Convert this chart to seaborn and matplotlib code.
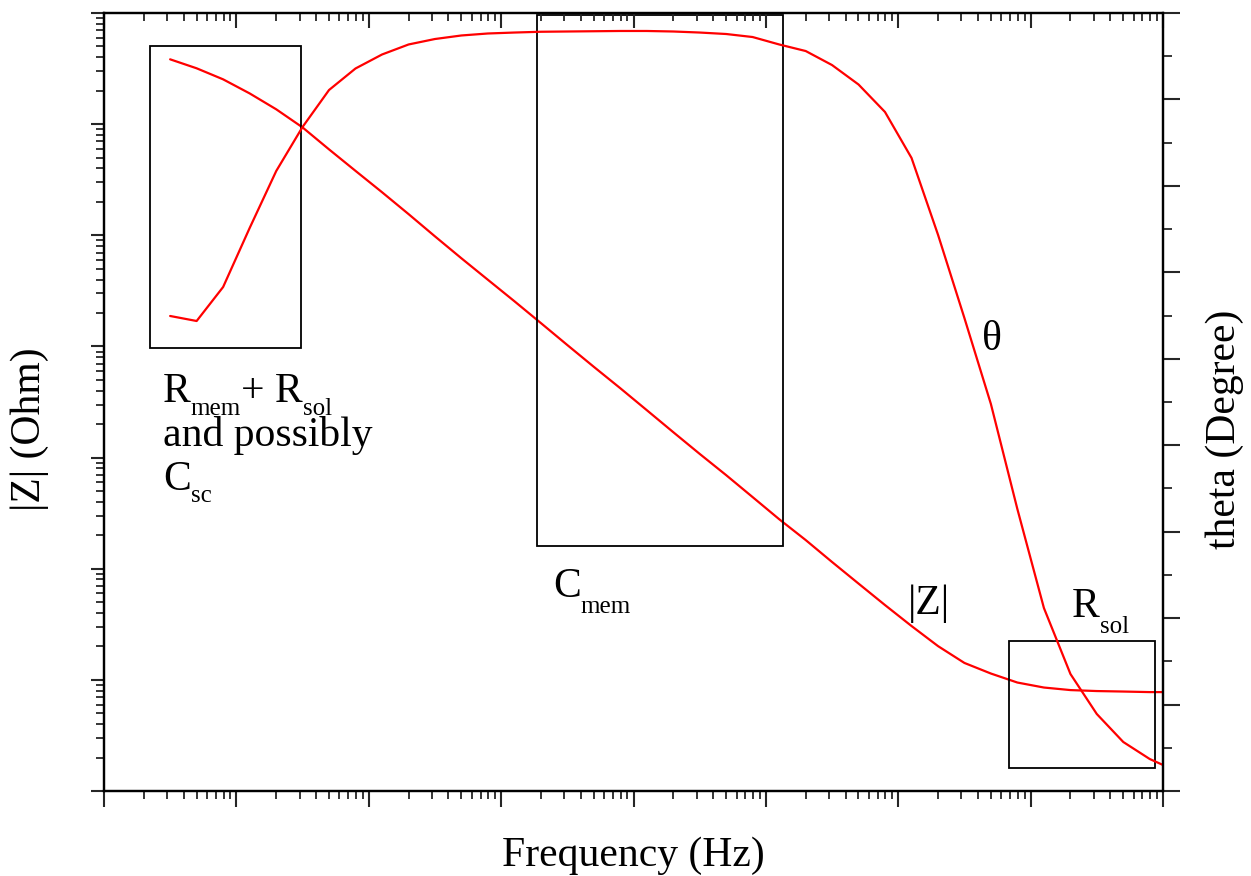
import numpy as np
import pandas as pd
import matplotlib
matplotlib.use("Agg")
import matplotlib.pyplot as plt
from matplotlib.patches import Rectangle
from matplotlib.ticker import LogLocator, NullFormatter, MultipleLocator
import seaborn as sns

# Impedance spectrum: frequency (Hz), impedance modulus (Ohm), phase angle (degree)
freq_hz = [0.0316, 0.0501, 0.0794, 0.126, 0.2, 0.316, 0.501, 0.794, 1.26, 2.0,
           3.16, 5.01, 7.94, 12.6, 20.0, 31.6, 50.1, 79.4, 126, 200,
           316, 501, 794, 1260, 2000, 3160, 5010, 7940, 12600, 20000,
           31600, 50100, 79400, 126000, 200000, 316000, 501000, 794000, 1000000]
z_ohm = [3.83e6, 3.18e6, 2.53e6, 1.89e6, 1.36e6, 9.35e5, 5.93e5, 3.80e5, 2.44e5, 1.55e5,
         9.79e4, 6.21e4, 3.98e4, 2.55e4, 1.62e4, 1.03e4, 6.56e3, 4.21e3, 2.67e3, 1.69e3,
         1.08e3, 695, 441, 279, 181, 115, 73.5, 47.1, 30.5, 20.1,
         14.2, 11.4, 9.46, 8.53, 8.09, 7.93, 7.85, 7.76, 7.76]
theta_deg = [54.95, 54.37, 58.30, 65.13, 71.72, 76.81, 81.09, 83.58, 85.20, 86.36,
             86.99, 87.40, 87.63, 87.74, 87.83, 87.86, 87.89, 87.92, 87.92, 87.86,
             87.74, 87.57, 87.22, 86.36, 85.60, 83.98, 81.73, 78.55, 73.23, 64.32,
             54.72, 44.77, 32.62, 21.17, 13.53, 8.91, 5.67, 3.70, 3.01]

# Frequency / impedance windows of the three regimes
box_f_lo = [0.0222, 18.6, 6.84e4]
box_f_hi = [0.308, 1343, 8.67e5]
box_z_lo = [9.64e3, 160, 1.61]
box_z_hi = [5.0e6, 9.6e6, 22.3]

# Axis ranges
f_range = (1e-2, 1e6)
z_range = (1e0, 1e7)
theta_range = (0, 90)

df = pd.DataFrame({"freq": freq_hz, "z": z_ohm, "theta": theta_deg})

sns.set_style("ticks")
plt.rcParams["font.family"] = ["Liberation Serif", "DejaVu Serif"]
plt.rcParams["text.color"] = "black"
plt.rcParams["axes.labelcolor"] = "black"

W, H = 1251, 876
fig = plt.figure(figsize=(W / 100, H / 100), dpi=100)
ax = fig.add_axes([104 / W, 1 - 791 / H, 1059 / W, 778 / H])
ax.set_xscale("log")
ax.set_yscale("log")
ax.set_xlim(*f_range)
ax.set_ylim(*z_range)

red = "#ff0000"
sns.lineplot(data=df, x="freq", y="z", ax=ax, color=red, lw=1.6,
             sort=False, estimator=None)

ax2 = ax.twinx()
ax2.set_ylim(*theta_range)
sns.lineplot(data=df, x="freq", y="theta", ax=ax2, color=red, lw=1.6,
             sort=False, estimator=None)
ax2.set_xlim(*f_range)
ax2.set_xlabel("")

# Log ticks on both axes of the impedance plot
for axis in (ax.xaxis, ax.yaxis):
    axis.set_major_locator(LogLocator(base=10, numticks=30))
    axis.set_minor_locator(LogLocator(base=10, subs=np.arange(2, 10), numticks=30))
    axis.set_major_formatter(NullFormatter())
    axis.set_minor_formatter(NullFormatter())

ax.tick_params(axis="x", which="major", direction="out", length=11.5, width=1.5,
               bottom=True, top=False, labelbottom=False)
ax.tick_params(axis="x", which="minor", direction="out", length=5.5, width=1.3,
               bottom=True, top=False)
ax.tick_params(axis="y", which="major", direction="out", length=9.5, width=1.5,
               left=True, right=False, labelleft=False)
ax.tick_params(axis="y", which="minor", direction="out", length=5.5, width=1.3,
               left=True, right=False)

# Mirror ticks along the top edge, pointing inward
ax2.xaxis.set_visible(True)
ax2.tick_params(axis="x", which="major", direction="in", length=11, width=1.5,
                bottom=False, top=True, labelbottom=False, labeltop=False)
ax2.tick_params(axis="x", which="minor", direction="in", length=5.5, width=1.3,
                bottom=False, top=True, labelbottom=False, labeltop=False)

# Linear phase axis on the right
ax2.yaxis.set_major_locator(MultipleLocator(10))
ax2.yaxis.set_minor_locator(MultipleLocator(5))
ax2.yaxis.set_major_formatter(NullFormatter())
ax2.tick_params(axis="y", which="major", direction="out", length=12, width=1.5,
                right=True, left=False, labelright=False)
ax2.tick_params(axis="y", which="minor", direction="out", length=6.5, width=1.3,
                right=True, left=False)

for a in (ax, ax2):
    for s in a.spines.values():
        s.set_linewidth(1.6)
        s.set_color("black")
        s.set_visible(True)

# Regime boxes
for f0, f1, z0, z1 in zip(box_f_lo, box_f_hi, box_z_lo, box_z_hi):
    ax.add_patch(Rectangle((f0, z0), f1 - f0, z1 - z0, fill=False,
                           edgecolor="black", lw=1.3, zorder=3))

# Axis titles
fs = 30
sub_fs = 18
ax.set_xlabel("Frequency (Hz)", fontsize=fs, va="center", color="black")
ax.xaxis.set_label_coords(0.5, -0.0835)
ax.set_ylabel("|Z| (Ohm)", fontsize=fs, va="center", color="black")
ax.yaxis.set_label_coords(-0.0699, 0.465)
ax2.set_ylabel("theta (Degree)", fontsize=fs, va="center", rotation=90, color="black")
ax2.yaxis.set_label_coords(1.0585, 0.465)

renderer = fig.canvas.get_renderer()


def label(x_px, y_px, parts, drop=15):
    """Write text pieces left to right from a baseline point (pixels from top-left);
    pieces flagged as subscript are smaller and lowered."""
    x = x_px
    for s, is_sub in parts:
        y = y_px + (drop if is_sub else 0)
        t = fig.text(x / W, 1 - y / H, s, fontsize=sub_fs if is_sub else fs,
                     ha="left", va="baseline", color="black")
        x += t.get_window_extent(renderer).width


label(163, 402, [("R", False), ("mem", True), ("+ R", False), ("sol", True)], drop=13)
label(163, 446, [("and possibly", False)])
label(163, 490, [("C", False), ("sc", True)], drop=12)
label(553, 597, [("C", False), ("mem", True)], drop=16)
label(908, 614, [("|Z|", False)])
label(1072, 617, [("R", False), ("sol", True)], drop=16)
label(982, 350, [("θ", False)])

fig.savefig("out.png", dpi=100)
